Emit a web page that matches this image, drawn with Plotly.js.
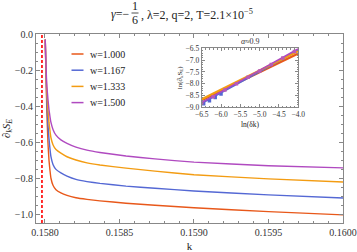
<!DOCTYPE html>
<html><head><meta charset="utf-8">
<script src="https://cdn.plot.ly/plotly-3.0.1.min.js"></script>
<style>html,body{margin:0;padding:0;background:#fff;}#chart{width:357px;height:252px;}</style>
</head><body><div id="chart"></div>
<script>
// ---- data ----
const wLabels = ["w=1.000", "w=1.167", "w=1.333", "w=1.500"];
const colors = ["#e8581a", "#5468d4", "#f39c12", "#b04ac0"];
const k = [0.158002, 0.158005, 0.158010, 0.158013, 0.158020, 0.158027, 0.158034, 0.158040, 0.158054, 0.158074,
           0.158107, 0.158148, 0.158208, 0.158282, 0.158369, 0.158544, 0.158738, 0.159000, 0.159500, 0.160000];
const sW1000 = [-0.03, -0.15, -0.33, -0.44, -0.60, -0.70, -0.76, -0.80, -0.84, -0.865,
                -0.883, -0.897, -0.910, -0.919, -0.927, -0.940, -0.951, -0.965, -0.987, -1.005];
const sW1167 = [-0.03, -0.14, -0.30, -0.38, -0.50, -0.58, -0.64, -0.68, -0.725, -0.752,
                -0.772, -0.790, -0.808, -0.820, -0.830, -0.845, -0.857, -0.872, -0.894, -0.911];
const sW1333 = [-0.03, -0.13, -0.27, -0.33, -0.42, -0.49, -0.54, -0.575, -0.615, -0.642,
                -0.662, -0.682, -0.700, -0.716, -0.728, -0.745, -0.762, -0.782, -0.805, -0.822];
const sW1500 = [-0.03, -0.12, -0.24, -0.29, -0.36, -0.42, -0.46, -0.49, -0.53, -0.562,
                -0.588, -0.607, -0.628, -0.645, -0.658, -0.678, -0.694, -0.712, -0.732, -0.744];
const kc = [0.15798, 0.15798];
const kcY = [-1.05, 0];
// inset: ln(dk) vs ln(dS)
const lnDk = [-6.5, -6.2, -5.9, -5.6, -5.3, -5.0, -4.7, -4.4, -4.1];
const lnPurple = [-8.82, -8.55, -8.27, -8.00, -7.73, -7.46, -7.19, -6.91, -6.64];
const lnDkBlue = [-6.45, -6.3, -6.15, -6.0];
const lnBlue = [-8.85, -8.72, -8.58, -8.44];
const fitX = [-6.5, -4.0];
const fitW1000 = [-8.70, -6.72];
const fitW1167 = [-8.82, -6.58];
const fitW1333 = [-8.66, -6.62];
const fitW1500 = [-8.80, -6.52];

const series = [sW1000, sW1167, sW1333, sW1500];
const fits = [fitW1000, fitW1167, fitW1333, fitW1500];

const serif = "Liberation Serif, Times New Roman, serif";
const frame = "#888";
const traces = [];
series.forEach((s, i) => {
  traces.push({x: k, y: s, type: "scatter", mode: "lines", name: wLabels[i],
    line: {color: colors[i], width: 1.4, shape: "spline", smoothing: 0.3}, showlegend: false});
});
traces.push({x: kc, y: kcY, type: "scatter", mode: "lines", line: {color: "#ff1a1a", width: 1.8, dash: "3px,2px"}, showlegend: false});
// inset
traces.push({x: lnDkBlue, y: lnBlue, xaxis: "x2", yaxis: "y2", mode: "markers", type: "scatter",
  marker: {symbol: "square", size: 3.5, color: colors[1]}, showlegend: false});
fits.forEach((f, i) => {
  traces.push({x: fitX, y: f, xaxis: "x2", yaxis: "y2", mode: "lines", type: "scatter",
    line: {color: colors[i], width: i === 3 ? 1.5 : 2.2}, showlegend: false});
});
traces.push({x: lnDk, y: lnPurple, xaxis: "x2", yaxis: "y2", mode: "markers", type: "scatter",
  marker: {symbol: "square", size: 3.5, color: "#b85ab8"}, showlegend: false});

const X = x => (x - 36) / 307;
const Y = y => (223 - y) / 189;

const annotations = [
  {text: "<i>γ</i>=−", x: X(132), y: Y(14), xanchor: "right", yanchor: "middle"},
  {text: "1", x: X(135), y: Y(5.5), xanchor: "center", yanchor: "middle"},
  {text: "6", x: X(135), y: Y(20), xanchor: "center", yanchor: "middle"},
  {text: ", λ=2, q=2, T=2.1×10<sup>−5</sup>", x: X(139), y: Y(14), xanchor: "left", yanchor: "middle"},
].map(a => Object.assign({xref: "paper", yref: "paper", showarrow: false, font: {family: serif, size: 12, color: "#222"}}, a));

const shapes = [
  {type: "line", xref: "paper", yref: "paper", x0: X(131.5), x1: X(138.5), y0: Y(13), y1: Y(13), line: {color: "#222", width: 0.8}}
];
wLabels.forEach((lab, i) => {
  const yy = 54 + i * 16.2;
  shapes.push({type: "line", xref: "paper", yref: "paper", x0: X(71.5), x1: X(83.5), y0: Y(yy), y1: Y(yy), line: {color: colors[i], width: 1.5}});
  annotations.push({text: lab, xref: "paper", yref: "paper", x: X(88), y: Y(yy), xanchor: "left", yanchor: "middle", showarrow: false,
    font: {family: serif, size: 10, color: "#222"}});
});
annotations.push({text: "<i>α</i>≈0.9", xref: "paper", yref: "paper", x: X(250), y: Y(41), xanchor: "center", yanchor: "middle", showarrow: false,
  font: {family: serif, size: 8, color: "#333"}});

const axBase = {showline: true, linecolor: frame, linewidth: 1, mirror: "ticks", ticks: "inside", tickcolor: frame,
  showgrid: false, zeroline: false, tickfont: {family: serif, size: 10, color: "#333"}};

const layout = {
  width: 357, height: 252,
  margin: {l: 36, r: 14, t: 34, b: 29},
  paper_bgcolor: "#fff", plot_bgcolor: "#fff",
  showlegend: false,
  xaxis: Object.assign({}, axBase, {range: [0.15794, 0.1600], tickvals: [0.1580, 0.1585, 0.1590, 0.1595, 0.1600],
    ticktext: ["0.1580", "0.1585", "0.1590", "0.1595", "0.1600"], ticklen: 4,
    minor: {dtick: 0.0001, tick0: 0.158, ticks: "inside", ticklen: 2, tickcolor: frame},
    title: {text: "k", font: {family: serif, size: 11, color: "#222"}, standoff: 6}}),
  yaxis: Object.assign({}, axBase, {range: [-1.05, 0], dtick: 0.2, tick0: 0, ticklen: 4, tickformat: ".1f",
    minor: {dtick: 0.05, ticks: "inside", ticklen: 2, tickcolor: frame},
    title: {text: "<i>∂<sub>k</sub>S<sub>E</sub></i>", font: {family: serif, size: 11, color: "#222"}, standoff: 4}}),
  xaxis2: Object.assign({}, axBase, {domain: [X(201.7), X(298.3)], anchor: "y2", range: [-6.5, -4.0], dtick: 0.5, tick0: -6.5,
    ticklen: 3, tickformat: ".1f", tickfont: {family: serif, size: 7.5, color: "#333"},
    minor: {dtick: 0.1, ticks: "inside", ticklen: 1.5, tickcolor: frame},
    title: {text: "ln(δk)", font: {family: serif, size: 7.5, color: "#222"}, standoff: 3}}),
  yaxis2: Object.assign({}, axBase, {domain: [Y(107.3), Y(48.3)], anchor: "x2", range: [-9.0, -6.5], dtick: 0.5, tick0: -9,
    ticklen: 3, tickformat: ".1f", tickfont: {family: serif, size: 7.5, color: "#333"},
    minor: {dtick: 0.1, ticks: "inside", ticklen: 1.5, tickcolor: frame},
    title: {text: "ln(∂<sub>k</sub>S<sub>E</sub>)", font: {family: serif, size: 7, color: "#222"}, standoff: 2}}),
  annotations: annotations,
  shapes: shapes
};
Plotly.newPlot("chart", traces, layout, {staticPlot: true, displayModeBar: false});
</script></body></html>
